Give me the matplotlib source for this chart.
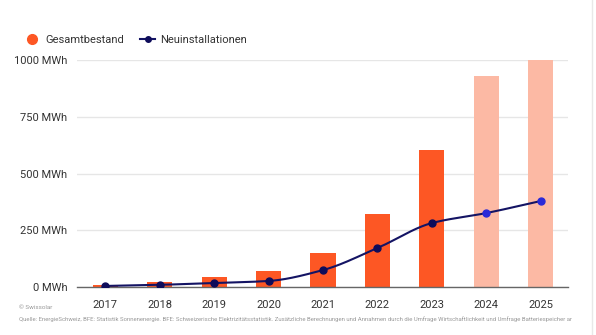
import numpy as np
import matplotlib
matplotlib.use("Agg")
import matplotlib.pyplot as plt
from matplotlib.lines import Line2D

plt.rcParams['font.family'] = ['Roboto', 'DejaVu Sans']

years = ["2017", "2018", "2019", "2020", "2021", "2022", "2023", "2024", "2025"]
gesamtbestand = [9, 22, 44, 70, 150, 322, 604, 930, 1000]
neuinstallationen = [5, 10, 18, 27, 75, 172, 282, 326, 379]
forecast = [False, False, False, False, False, False, False, True, True]
yticks = [0, 250, 500, 750, 1000]
ytick_labels = ["0 MWh", "250 MWh", "500 MWh", "750 MWh", "1000 MWh"]

bar_col = "#fd5724"
bar_fc = "#fcb9a4"
line_col = "#141464"
pt_col = "#0e0c5a"
pt_fc = "#2a2ad8"


def pchip(x, y, xs):
    x = np.asarray(x, float); y = np.asarray(y, float)
    h = np.diff(x); d = np.diff(y) / h
    n = len(x); m = np.zeros(n)
    for k in range(1, n - 1):
        if d[k - 1] * d[k] > 0:
            w1 = 2 * h[k] + h[k - 1]; w2 = h[k] + 2 * h[k - 1]
            m[k] = (w1 + w2) / (w1 / d[k - 1] + w2 / d[k])
    m[0] = d[0]; m[-1] = d[-1]
    out = np.empty_like(xs)
    for i, xv in enumerate(xs):
        k = min(np.searchsorted(x, xv, side='right') - 1, n - 2)
        t = (xv - x[k]) / h[k]
        h00 = 2*t**3 - 3*t**2 + 1; h10 = t**3 - 2*t**2 + t
        h01 = -2*t**3 + 3*t**2; h11 = t**3 - t**2
        out[i] = h00*y[k] + h10*h[k]*m[k] + h01*y[k+1] + h11*h[k]*m[k+1]
    return out


fig = plt.figure(figsize=(5.96, 3.35), dpi=100)
ax = fig.add_axes([0.129, 0.143, 0.824, 0.678])
x = np.arange(len(years))
colors = [bar_fc if f else bar_col for f in forecast]
ax.bar(x, gesamtbestand, width=0.46, color=colors, zorder=2)

xs = np.linspace(0, len(years) - 1, 400)
ax.plot(xs, pchip(x, neuinstallationen, xs), color=line_col, lw=1.5, zorder=3)
for xi, yi, f in zip(x, neuinstallationen, forecast):
    ax.plot(xi, yi, 'o', ms=5, color=pt_fc if f else pt_col, zorder=4)

ax.set_xlim(-0.52, len(years) - 1 + 0.5)
ax.set_ylim(0, 1000)
ax.set_yticks(yticks)
ax.set_yticklabels(ytick_labels)
ax.set_xticks(x)
ax.set_xticklabels(years)
ax.grid(axis='y', color='#e6e6e6', lw=1, zorder=0)
for s in ['top', 'right', 'left']:
    ax.spines[s].set_visible(False)
ax.spines['bottom'].set_color('#666666')
ax.spines['bottom'].set_linewidth(1)
ax.tick_params(axis='both', length=0, labelsize=8, colors='#333333')
ax.tick_params(axis='x', pad=9)
ax.tick_params(axis='y', pad=7)

handles = [Line2D([], [], marker='o', color='none', markerfacecolor=bar_col,
                  markeredgecolor=bar_col, ms=7),
           Line2D([], [], marker='o', color=line_col, markerfacecolor=pt_col,
                  markeredgecolor=pt_col, ms=4, lw=1.5)]
fig.legend(handles, ["Gesamtbestand", "Neuinstallationen"], loc='upper left',
           bbox_to_anchor=(0.025, 0.925), ncol=2, frameon=False, fontsize=8,
           handlelength=1.3, handletextpad=0.5, columnspacing=1.5,
           labelcolor='#333333')

fig.text(0.032, 0.077, "© Swissolar", fontsize=4.5, color='#999999')
fig.text(0.032, 0.043,
         "Quelle: EnergieSchweiz, BFE: Statistik Sonnenenergie. BFE: Schweizerische Elektrizitätsstatistik. "
         "Zusätzliche Berechnungen und Annahmen durch die Umfrage Wirtschaftlichkeit und Umfrage Batteriespeicher ar",
         fontsize=4.3, color='#999999')

fig.add_artist(Line2D([0.994, 0.994], [0, 1], transform=fig.transFigure,
                      color='#e8e8e8', lw=1))

fig.savefig("out.png", dpi=100)
